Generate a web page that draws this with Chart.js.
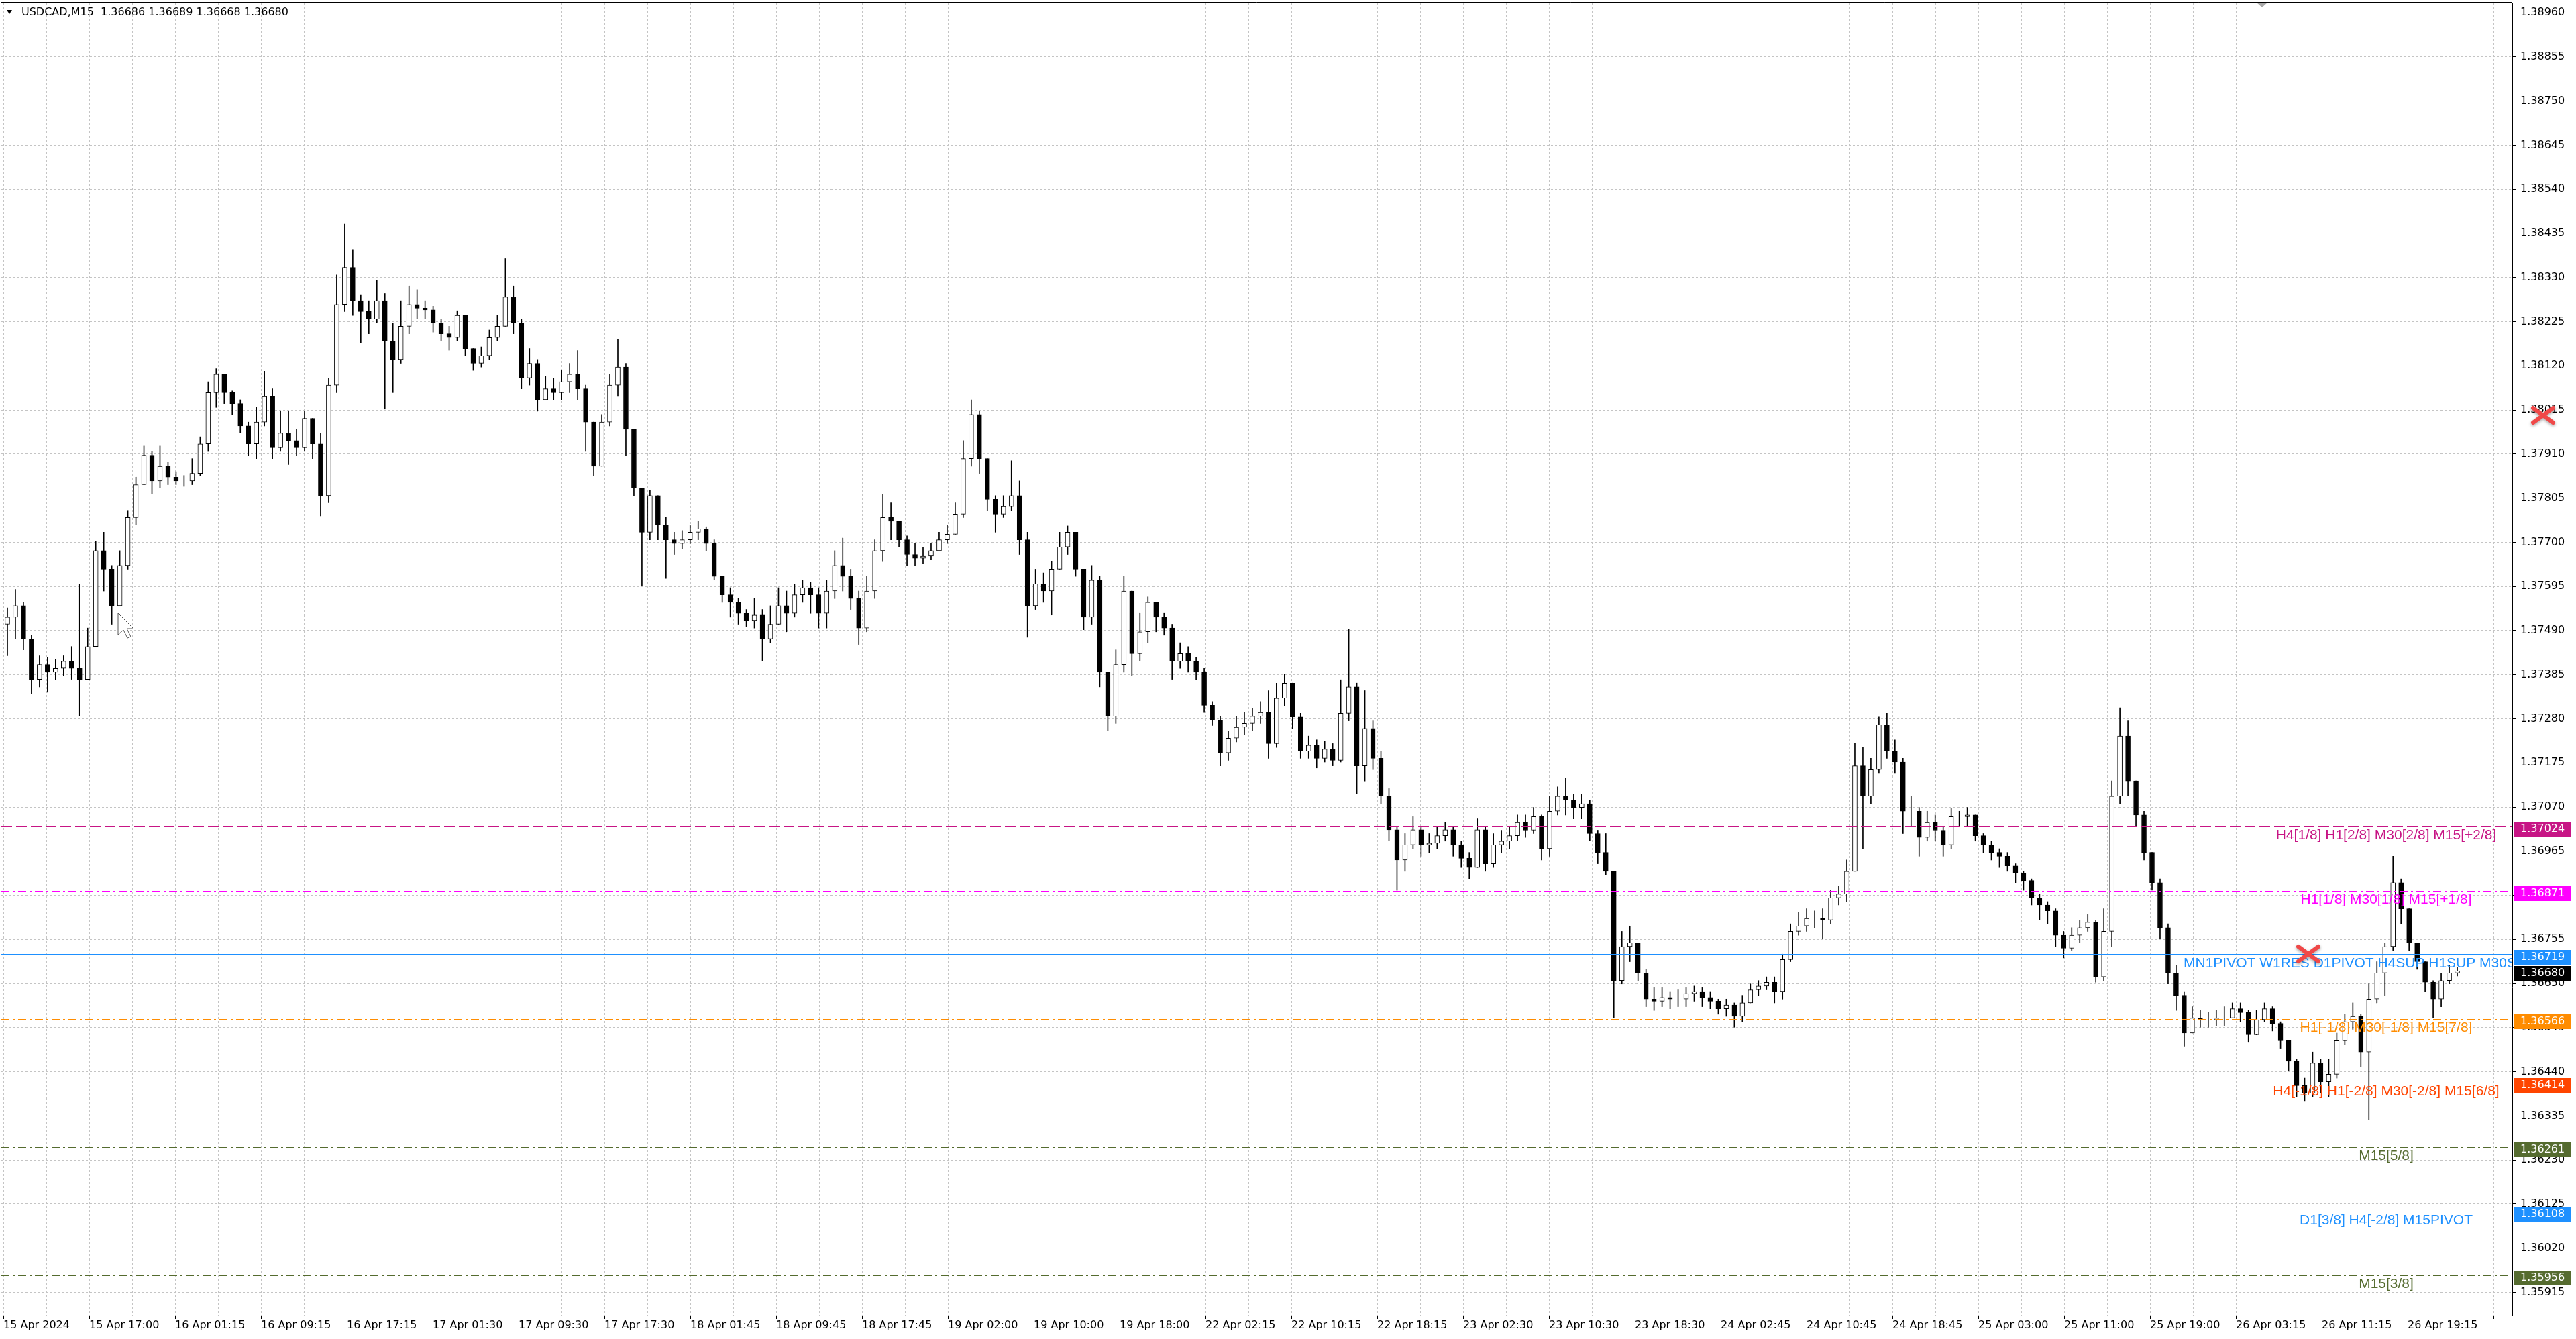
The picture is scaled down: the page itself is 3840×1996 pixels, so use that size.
<!DOCTYPE html>
<html>
<head>
<meta charset="utf-8">
<title>USDCAD,M15</title>
<script src="https://cdn.jsdelivr.net/npm/chart.js@4.4.1/dist/chart.umd.min.js"></script>
<style>
  html, body { margin: 0; padding: 0; background: #fff; overflow: hidden; }
  #wrap { position: relative; width: 3840px; height: 1996px; }
</style>
</head>
<body>
<div id="wrap"><canvas id="chart" width="3840" height="1996"></canvas></div>
<script>
// header line of the chart window
const symbolTitle = "USDCAD,M15  1.36686 1.36689 1.36668 1.36680";

// candles (each one groups ~3 M15 bars)
const firstOpen = 1.37505;
const closes = [
  1.37522, 1.37549, 1.37470, 1.37374, 1.37409, 1.37391, 1.37400, 1.37417, 1.37400, 1.37374,
  1.37452, 1.37680, 1.37636, 1.37549, 1.37645, 1.37759, 1.37837, 1.37907, 1.37846, 1.37881,
  1.37855, 1.37846, 1.37846, 1.37864, 1.37934, 1.38056, 1.38100, 1.38056, 1.38030, 1.37977,
  1.37934, 1.37986, 1.38047, 1.37925, 1.37960, 1.37942, 1.37925, 1.37995, 1.37934, 1.37811,
  1.38074, 1.38266, 1.38354, 1.38275, 1.38249, 1.38231, 1.38275, 1.38179, 1.38135, 1.38214,
  1.38266, 1.38257, 1.38253, 1.38222, 1.38196, 1.38187, 1.38240, 1.38161, 1.38126, 1.38144,
  1.38187, 1.38214, 1.38284, 1.38222, 1.38091, 1.38126, 1.38039, 1.38065, 1.38056, 1.38082,
  1.38100, 1.38065, 1.37986, 1.37881, 1.37986, 1.38074, 1.38117, 1.37969, 1.37829, 1.37724,
  1.37811, 1.37741, 1.37706, 1.37697, 1.37706, 1.37724, 1.37732, 1.37697, 1.37619, 1.37575,
  1.37557, 1.37531, 1.37514, 1.37527, 1.37470, 1.37505, 1.37549, 1.37531, 1.37575, 1.37592,
  1.37575, 1.37531, 1.37584, 1.37645, 1.37619, 1.37566, 1.37496, 1.37584, 1.37680, 1.37759,
  1.37750, 1.37706, 1.37671, 1.37662, 1.37667, 1.37680, 1.37706, 1.37719, 1.37767, 1.37899,
  1.38004, 1.37899, 1.37802, 1.37767, 1.37785, 1.37811, 1.37706, 1.37549, 1.37601, 1.37584,
  1.37636, 1.37689, 1.37724, 1.37636, 1.37522, 1.37610, 1.37391, 1.37286, 1.37409, 1.37584,
  1.37435, 1.37487, 1.37557, 1.37522, 1.37496, 1.37417, 1.37435, 1.37417, 1.37391, 1.37312,
  1.37277, 1.37199, 1.37234, 1.37260, 1.37269, 1.37286, 1.37295, 1.37221, 1.37329, 1.37365,
  1.37284, 1.37203, 1.37217, 1.37186, 1.37208, 1.37181, 1.37293, 1.37356, 1.37168, 1.37257,
  1.37186, 1.37096, 1.37016, 1.36944, 1.36980, 1.37016, 1.36980, 1.36984, 1.37002, 1.37016,
  1.36980, 1.36948, 1.36926, 1.37016, 1.36935, 1.36980, 1.36989, 1.37002, 1.37033, 1.37015,
  1.37047, 1.36971, 1.37060, 1.37096, 1.37087, 1.37069, 1.37078, 1.37007, 1.36962, 1.36917,
  1.36657, 1.36738, 1.36747, 1.36675, 1.36613, 1.36608, 1.36617, 1.36613, 1.36613, 1.36626,
  1.36631, 1.36617, 1.36608, 1.36590, 1.36599, 1.36572, 1.36604, 1.36635, 1.36644, 1.36653,
  1.36631, 1.36707, 1.36774, 1.36787, 1.36805, 1.36805, 1.36801, 1.36854, 1.36863, 1.36917,
  1.37168, 1.37096, 1.37159, 1.37266, 1.37203, 1.37177, 1.37060, 1.37060, 1.36998, 1.37033,
  1.37015, 1.36980, 1.37047, 1.37047, 1.37051, 1.37002, 1.36980, 1.36962, 1.36953, 1.36930,
  1.36913, 1.36895, 1.36854, 1.36837, 1.36823, 1.36765, 1.36734, 1.36765, 1.36783, 1.36796,
  1.36666, 1.36774, 1.37096, 1.37239, 1.37132, 1.37051, 1.36962, 1.36890, 1.36783, 1.36675,
  1.36622, 1.36532, 1.36568, 1.36564, 1.36564, 1.36568, 1.36568, 1.36590, 1.36581, 1.36528,
  1.36564, 1.36590, 1.36555, 1.36514, 1.36465, 1.36407, 1.36389, 1.36461, 1.36416, 1.36434,
  1.36514, 1.36559, 1.36572, 1.36487, 1.36613, 1.36675, 1.36738, 1.36890, 1.36828, 1.36747,
  1.36702, 1.36653, 1.36613, 1.36657, 1.36675, 1.36680
];
const highs = [
  1.37544, 1.37588, 1.37557, 1.37479, 1.37430, 1.37426, 1.37422, 1.37430, 1.37452, 1.37601,
  1.37496, 1.37702, 1.37724, 1.37645, 1.37680, 1.37776, 1.37855, 1.37929, 1.37916, 1.37929,
  1.37890, 1.37868, 1.37859, 1.37899, 1.37951, 1.38082, 1.38113, 1.38100, 1.38060, 1.38039,
  1.37986, 1.38021, 1.38107, 1.38065, 1.38012, 1.38012, 1.37969, 1.38012, 1.37995, 1.37960,
  1.38091, 1.38336, 1.38457, 1.38397, 1.38288, 1.38275, 1.38323, 1.38292, 1.38222, 1.38275,
  1.38310, 1.38301, 1.38275, 1.38262, 1.38231, 1.38214, 1.38251, 1.38240, 1.38161, 1.38165,
  1.38205, 1.38240, 1.38375, 1.38310, 1.38231, 1.38161, 1.38135, 1.38095, 1.38091, 1.38109,
  1.38126, 1.38156, 1.38074, 1.37986, 1.38004, 1.38100, 1.38183, 1.38126, 1.37969, 1.37829,
  1.37824, 1.37811, 1.37759, 1.37724, 1.37728, 1.37741, 1.37750, 1.37737, 1.37706, 1.37619,
  1.37592, 1.37566, 1.37540, 1.37566, 1.37540, 1.37549, 1.37592, 1.37584, 1.37601, 1.37610,
  1.37605, 1.37592, 1.37610, 1.37680, 1.37710, 1.37636, 1.37584, 1.37619, 1.37706, 1.37815,
  1.37794, 1.37750, 1.37715, 1.37697, 1.37689, 1.37697, 1.37724, 1.37741, 1.37794, 1.37942,
  1.38039, 1.38012, 1.37899, 1.37811, 1.37811, 1.37894, 1.37846, 1.37724, 1.37636, 1.37627,
  1.37654, 1.37724, 1.37739, 1.37724, 1.37636, 1.37645, 1.37619, 1.37391, 1.37444, 1.37619,
  1.37584, 1.37531, 1.37570, 1.37549, 1.37531, 1.37505, 1.37461, 1.37452, 1.37426, 1.37400,
  1.37321, 1.37286, 1.37251, 1.37286, 1.37295, 1.37304, 1.37321, 1.37347, 1.37365, 1.37387,
  1.37365, 1.37293, 1.37239, 1.37230, 1.37226, 1.37221, 1.37373, 1.37494, 1.37365, 1.37347,
  1.37275, 1.37203, 1.37114, 1.37024, 1.37007, 1.37047, 1.37024, 1.37007, 1.37024, 1.37033,
  1.37024, 1.36989, 1.36962, 1.37042, 1.37024, 1.37007, 1.37015, 1.37024, 1.37051, 1.37051,
  1.37069, 1.37051, 1.37096, 1.37118, 1.37138, 1.37101, 1.37101, 1.37087, 1.37015, 1.37007,
  1.36917, 1.36774, 1.36787, 1.36747, 1.36684, 1.36640, 1.36640, 1.36631, 1.36635, 1.36640,
  1.36644, 1.36640, 1.36631, 1.36613, 1.36613, 1.36604, 1.36622, 1.36649, 1.36657, 1.36666,
  1.36666, 1.36720, 1.36792, 1.36819, 1.36828, 1.36823, 1.36828, 1.36872, 1.36881, 1.36944,
  1.37221, 1.37212, 1.37186, 1.37284, 1.37293, 1.37230, 1.37186, 1.37096, 1.37069, 1.37060,
  1.37051, 1.37024, 1.37067, 1.37060, 1.37069, 1.37051, 1.37007, 1.36989, 1.36971, 1.36962,
  1.36935, 1.36917, 1.36899, 1.36863, 1.36845, 1.36828, 1.36774, 1.36783, 1.36801, 1.36814,
  1.36801, 1.36828, 1.37132, 1.37306, 1.37275, 1.37132, 1.37060, 1.36953, 1.36899, 1.36792,
  1.36693, 1.36631, 1.36595, 1.36586, 1.36581, 1.36586, 1.36595, 1.36604, 1.36604, 1.36586,
  1.36586, 1.36604, 1.36595, 1.36559, 1.36514, 1.36470, 1.36425, 1.36487, 1.36470, 1.36470,
  1.36532, 1.36577, 1.36604, 1.36577, 1.36649, 1.36702, 1.36747, 1.36953, 1.36899, 1.36828,
  1.36747, 1.36702, 1.36657, 1.36675, 1.36693, 1.36689
];
const lows = [
  1.37430, 1.37470, 1.37444, 1.37339, 1.37356, 1.37343, 1.37374, 1.37382, 1.37374, 1.37286,
  1.37382, 1.37461, 1.37584, 1.37505, 1.37592, 1.37636, 1.37741, 1.37846, 1.37815, 1.37829,
  1.37837, 1.37837, 1.37833, 1.37837, 1.37859, 1.37916, 1.38021, 1.38030, 1.38004, 1.37960,
  1.37907, 1.37899, 1.37977, 1.37899, 1.37916, 1.37885, 1.37907, 1.37916, 1.37899, 1.37763,
  1.37794, 1.38056, 1.38249, 1.38240, 1.38174, 1.38196, 1.38222, 1.38017, 1.38056, 1.38126,
  1.38196, 1.38231, 1.38231, 1.38200, 1.38179, 1.38157, 1.38179, 1.38144, 1.38109, 1.38117,
  1.38135, 1.38179, 1.38214, 1.38196, 1.38065, 1.38074, 1.38012, 1.38039, 1.38039, 1.38039,
  1.38056, 1.38039, 1.37916, 1.37859, 1.37881, 1.37977, 1.38047, 1.37907, 1.37811, 1.37597,
  1.37706, 1.37706, 1.37614, 1.37671, 1.37684, 1.37697, 1.37706, 1.37680, 1.37610, 1.37557,
  1.37522, 1.37505, 1.37500, 1.37496, 1.37417, 1.37461, 1.37514, 1.37487, 1.37522, 1.37557,
  1.37531, 1.37496, 1.37496, 1.37566, 1.37584, 1.37540, 1.37457, 1.37487, 1.37566, 1.37654,
  1.37706, 1.37689, 1.37645, 1.37645, 1.37649, 1.37658, 1.37680, 1.37697, 1.37724, 1.37759,
  1.37881, 1.37864, 1.37776, 1.37724, 1.37759, 1.37776, 1.37671, 1.37474, 1.37540, 1.37557,
  1.37527, 1.37636, 1.37671, 1.37619, 1.37492, 1.37505, 1.37356, 1.37251, 1.37269, 1.37391,
  1.37382, 1.37417, 1.37461, 1.37487, 1.37479, 1.37374, 1.37400, 1.37391, 1.37374, 1.37295,
  1.37264, 1.37168, 1.37181, 1.37225, 1.37242, 1.37251, 1.37269, 1.37186, 1.37212, 1.37311,
  1.37257, 1.37186, 1.37186, 1.37163, 1.37177, 1.37168, 1.37177, 1.37275, 1.37101, 1.37132,
  1.37159, 1.37078, 1.36989, 1.36872, 1.36917, 1.36971, 1.36953, 1.36962, 1.36971, 1.36989,
  1.36953, 1.36926, 1.36899, 1.36926, 1.36917, 1.36926, 1.36962, 1.36971, 1.36989, 1.36998,
  1.37007, 1.36944, 1.36953, 1.37051, 1.37051, 1.37042, 1.37042, 1.36989, 1.36935, 1.36908,
  1.36568, 1.36649, 1.36702, 1.36657, 1.36595, 1.36586, 1.36595, 1.36590, 1.36595, 1.36595,
  1.36608, 1.36595, 1.36590, 1.36577, 1.36572, 1.36546, 1.36559, 1.36604, 1.36622, 1.36635,
  1.36604, 1.36613, 1.36702, 1.36765, 1.36774, 1.36783, 1.36756, 1.36792, 1.36837, 1.36845,
  1.36917, 1.36971, 1.37078, 1.37150, 1.37186, 1.37150, 1.37007, 1.37024, 1.36953, 1.36989,
  1.36989, 1.36953, 1.36971, 1.37024, 1.37024, 1.36989, 1.36962, 1.36944, 1.36926, 1.36917,
  1.36890, 1.36872, 1.36837, 1.36801, 1.36792, 1.36738, 1.36711, 1.36729, 1.36747, 1.36774,
  1.36653, 1.36657, 1.36738, 1.37078, 1.37096, 1.37024, 1.36944, 1.36872, 1.36756, 1.36649,
  1.36586, 1.36501, 1.36532, 1.36546, 1.36546, 1.36550, 1.36550, 1.36568, 1.36559, 1.36510,
  1.36532, 1.36559, 1.36537, 1.36496, 1.36443, 1.36380, 1.36371, 1.36380, 1.36389, 1.36380,
  1.36425, 1.36505, 1.36541, 1.36452, 1.36326, 1.36604, 1.36622, 1.36729, 1.36792, 1.36729,
  1.36684, 1.36631, 1.36568, 1.36595, 1.36649, 1.36668
];

// number of M15 bars on screen, time labels sit every 32 bars
const totalBars = 916;
const timeLabels = [
  "15 Apr 2024", "15 Apr 17:00", "16 Apr 01:15", "16 Apr 09:15", "16 Apr 17:15",
  "17 Apr 01:30", "17 Apr 09:30", "17 Apr 17:30", "18 Apr 01:45", "18 Apr 09:45",
  "18 Apr 17:45", "19 Apr 02:00", "19 Apr 10:00", "19 Apr 18:00", "22 Apr 02:15",
  "22 Apr 10:15", "22 Apr 18:15", "23 Apr 02:30", "23 Apr 10:30", "23 Apr 18:30",
  "24 Apr 02:45", "24 Apr 10:45", "24 Apr 18:45", "25 Apr 03:00", "25 Apr 11:00",
  "25 Apr 19:00", "26 Apr 03:15", "26 Apr 11:15", "26 Apr 19:15"
];
const priceTicks = [
  1.38960, 1.38855, 1.38750, 1.38645, 1.38540, 1.38435, 1.38330, 1.38225, 1.38120, 1.38015,
  1.37910, 1.37805, 1.37700, 1.37595, 1.37490, 1.37385, 1.37280, 1.37175, 1.37070, 1.36965,
  1.36860, 1.36755, 1.36650, 1.36545, 1.36440, 1.36335, 1.36230, 1.36125, 1.36020, 1.35915
];

// Murrey / pivot levels drawn as horizontal lines
const levelPrices = [1.37024, 1.36871, 1.36719, 1.36566, 1.36414, 1.36261, 1.36108, 1.35956];
const levelNames = [
  "H4[1/8] H1[2/8] M30[2/8] M15[+2/8]",
  "H1[1/8] M30[1/8] M15[+1/8]",
  "MN1PIVOT W1RES D1PIVOT H4SUP H1SUP M30S",
  "H1[-1/8] M30[-1/8] M15[7/8]",
  "H4[-1/8] H1[-2/8] M30[-2/8] M15[6/8]",
  "M15[5/8]",
  "D1[3/8] H4[-2/8] M15PIVOT",
  "M15[3/8]"
];
const bidPrice = 1.36680;

// ---- styles ----
const DASH = [16, 6];
const DASHDOT = [12, 5, 3, 5];
const levelStyles = [
  { color: "#C71585", dash: DASH, width: 1 },
  { color: "#FF00FF", dash: DASHDOT, width: 1 },
  { color: "#1E90FF", dash: [], width: 2, leftBar: 812.5 },
  { color: "#FF8C00", dash: DASHDOT, width: 1 },
  { color: "#FF4500", dash: DASH, width: 1 },
  { color: "#556B2F", dash: DASHDOT, width: 1 },
  { color: "#1E90FF", dash: [], width: 1 },
  { color: "#556B2F", dash: DASHDOT, width: 1 }
];
const LABEL_BAR = 888;
const AXIS_FONT = { family: "DejaVu Sans", size: 16 };

const perCandle = totalBars / closes.length;
const opens = closes.map((c, i) => (i === 0 ? firstOpen : closes[i - 1]));
const mid = (i) => (i + 0.5) * perCandle;

const bodyData = closes.map((c, i) => ({ x: mid(i), y: [opens[i], c] }));
const wickData = closes.map((c, i) => ({
  x: mid(i),
  y: [Math.min(lows[i], opens[i], c), Math.max(highs[i], opens[i], c)]
}));

const overlay = {
  id: "overlay",
  afterDatasetsDraw(chart) {
    const { ctx, chartArea: a, scales: { x, y } } = chart;

    ctx.save();
    ctx.beginPath();
    ctx.rect(a.left, a.top, a.right - a.left, a.bottom - a.top);
    ctx.clip();

    // bid line
    const by = Math.round(y.getPixelForValue(bidPrice)) + 0.5;
    ctx.strokeStyle = "#c0c0c0";
    ctx.lineWidth = 1;
    ctx.setLineDash([]);
    ctx.beginPath(); ctx.moveTo(a.left, by); ctx.lineTo(a.right, by); ctx.stroke();

    ctx.font = "21px 'Liberation Sans', Arial, sans-serif";
    ctx.textBaseline = "middle";
    levelPrices.forEach((p, i) => {
      const st = levelStyles[i];
      const ly = Math.round(y.getPixelForValue(p)) + (st.width === 2 ? 0 : 0.5);
      ctx.strokeStyle = st.color;
      ctx.lineWidth = st.width;
      ctx.setLineDash(st.dash);
      ctx.beginPath(); ctx.moveTo(a.left, ly); ctx.lineTo(a.right, ly); ctx.stroke();

      ctx.fillStyle = st.color;
      if (st.leftBar !== undefined) {
        ctx.textAlign = "left";
        ctx.fillText(levelNames[i], x.getPixelForValue(st.leftBar), ly + 13);
      } else {
        ctx.textAlign = "center";
        ctx.fillText(levelNames[i], x.getPixelForValue(LABEL_BAR), ly + 13);
      }
    });
    ctx.restore();

    // price boxes on the axis
    ctx.save();
    ctx.font = "16px 'DejaVu Sans'";
    ctx.textBaseline = "middle";
    ctx.textAlign = "left";
    const box = (p, color) => {
      const py = Math.round(y.getPixelForValue(p));
      ctx.fillStyle = color;
      ctx.fillRect(a.right + 2, py - 7, 86, 22);
      ctx.fillStyle = "#fff";
      ctx.fillText(p.toFixed(5), a.right + 12, py + 4);
    };
    levelPrices.forEach((p, i) => box(p, levelStyles[i].color));
    box(bidPrice, "#000");
    ctx.restore();
  },
  afterDraw(chart) {
    const { ctx, chartArea: a } = chart;
    ctx.save();
    // frame
    ctx.strokeStyle = "#000";
    ctx.lineWidth = 1;
    ctx.beginPath();
    ctx.moveTo(1.5, a.bottom); ctx.lineTo(1.5, 3.5); ctx.lineTo(a.right, 3.5);
    ctx.stroke();
    ctx.strokeStyle = "#a0a0a0";
    ctx.beginPath(); ctx.moveTo(0, 1.5); ctx.lineTo(3840, 1.5); ctx.stroke();

    // header
    ctx.fillStyle = "#000";
    ctx.beginPath(); ctx.moveTo(10, 15); ctx.lineTo(18, 15); ctx.lineTo(14, 21); ctx.closePath(); ctx.fill();
    ctx.font = "16px 'DejaVu Sans'";
    ctx.textBaseline = "middle";
    ctx.textAlign = "left";
    ctx.fillText(symbolTitle, 32, 19);

    // chart shift marker
    ctx.fillStyle = "#a8a8a8";
    ctx.beginPath(); ctx.moveTo(3364, 4); ctx.lineTo(3380, 4); ctx.lineTo(3372, 11); ctx.closePath(); ctx.fill();

    // mouse cursor
    ctx.fillStyle = "#fff";
    ctx.strokeStyle = "#555";
    ctx.beginPath();
    ctx.moveTo(176, 914); ctx.lineTo(176, 946); ctx.lineTo(184, 939); ctx.lineTo(190, 951);
    ctx.lineTo(195, 949); ctx.lineTo(189, 937); ctx.lineTo(199, 937); ctx.closePath();
    ctx.fill(); ctx.stroke();

    // red crosses
    const cross = (cx, cy) => {
      ctx.strokeStyle = "#f04848";
      ctx.lineWidth = 6;
      ctx.lineCap = "round";
      ctx.shadowColor = "rgba(0,0,0,0.35)";
      ctx.shadowBlur = 4;
      ctx.shadowOffsetY = 2;
      ctx.beginPath();
      ctx.moveTo(cx - 15, cy - 11); ctx.lineTo(cx + 15, cy + 11);
      ctx.moveTo(cx + 15, cy - 11); ctx.lineTo(cx - 15, cy + 11);
      ctx.stroke();
    };
    cross(3791, 619);
    cross(3441, 1422);
    ctx.restore();
  }
};

new Chart(document.getElementById("chart"), {
  type: "bar",
  data: {
    datasets: [
      {
        label: "body",
        data: bodyData,
        order: 0,
        grouped: false,
        barThickness: 7,
        backgroundColor: (c) => (c.raw && c.raw.y[1] >= c.raw.y[0] ? "#ffffff" : "#000000"),
        borderColor: "#000",
        borderWidth: 1,
        borderSkipped: false
      },
      {
        label: "wick",
        data: wickData,
        order: 1,
        grouped: false,
        barThickness: 1,
        backgroundColor: "#000",
        borderWidth: 0
      }
    ]
  },
  options: {
    responsive: false,
    devicePixelRatio: 1,
    animation: false,
    events: [],
    layout: { padding: { top: 4, left: 2, right: 0, bottom: 0 } },
    plugins: { legend: { display: false }, tooltip: { enabled: false } },
    scales: {
      x: {
        type: "linear",
        offset: false,
        min: -0.75,
        max: 935,
        bounds: "data",
        afterBuildTicks: (s) => {
          const t = [];
          for (let b = 0; b <= 928; b += 16) t.push({ value: b });
          s.ticks = t;
        },
        afterFit: (s) => {
          s.height = 35;
          s.paddingLeft = 0;
          s.paddingRight = 0;
        },
        ticks: {
          autoSkip: false,
          maxRotation: 0,
          align: "start",
          padding: 0,
          color: "#000",
          font: AXIS_FONT,
          callback: (v) => (v % 32 === 0 ? (timeLabels[v / 32] || "") : "")
        },
        grid: {
          offset: false,
          color: "#c4c4c4",
          lineWidth: 1,
          tickLength: 5,
          tickColor: (c) => (c.tick && c.tick.value % 32 === 0 ? "#000" : "rgba(0,0,0,0)")
        },
        border: { display: true, color: "#000", width: 1, dash: [3, 3] }
      },
      y: {
        position: "right",
        beginAtZero: false,
        bounds: "data",
        min: 1.35860,
        max: 1.38984,
        afterBuildTicks: (s) => { s.ticks = priceTicks.map((v) => ({ value: v })); },
        afterFit: (s) => {
          s.width = 95;
          s.paddingTop = 0;
          s.paddingBottom = 0;
        },
        ticks: {
          padding: 6,
          color: "#000",
          font: AXIS_FONT,
          callback: (v) => Number(v).toFixed(5)
        },
        grid: { color: "#c4c4c4", lineWidth: 1, tickLength: 6, tickColor: "#000" },
        border: { display: true, color: "#000", width: 1, dash: [3, 3] }
      }
    }
  },
  plugins: [overlay]
});
</script>
</body>
</html>
